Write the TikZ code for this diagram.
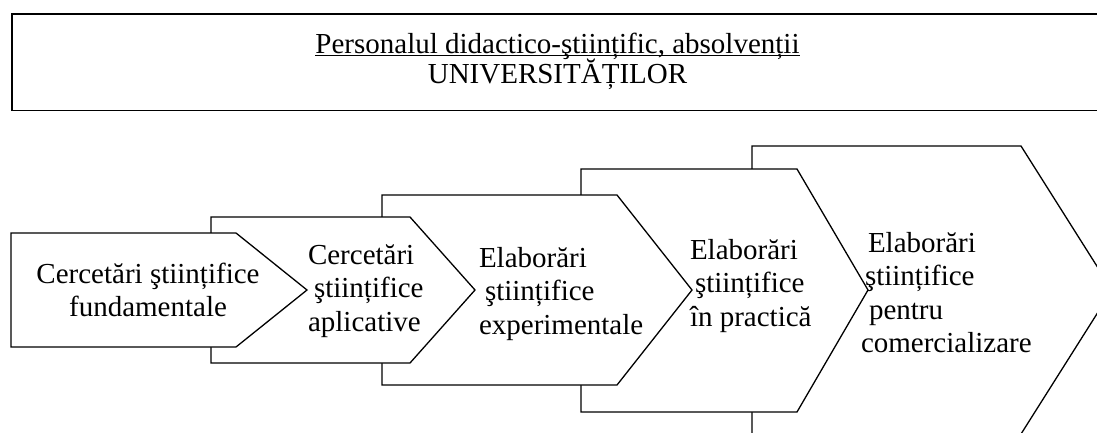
\documentclass[tikz,border=0pt]{standalone}
\usepackage{fontspec}
\setmainfont{Liberation Serif}
\tikzset{
  shp/.style={draw=black, line width=1.3pt, fill=white, line join=miter},
  frame/.style={draw=black, line width=1.6pt},
  lbl/.style={inner sep=0pt, outer sep=0pt, font=\fontsize{29}{33.5}\selectfont},
}
\begin{document}
\begin{tikzpicture}[x=1pt,y=-1pt]
\useasboundingbox (0,0) rectangle (1097,432);
\clip (0,0) rectangle (1097,432);
% title box
\draw[frame] (12,14) rectangle (1106,110.5);
\node[lbl, anchor=base] (t1) at (557.5,53) {Personalul didactico-ştiințific, absolvenții};
\draw[line width=1.4pt] ([yshift=-2.5pt]t1.base west) -- ([yshift=-2.5pt]t1.base east);
\node[lbl, anchor=base] (t2) at (557.5,83) {UNIVERSITĂȚILOR};
% arrow shapes, back to front
\draw[shp] (752,146) -- (1021,146) -- (1112,290) -- (1021,434) -- (752,434) -- cycle;
\draw[shp] (581,169) -- (797,169) -- (868,290) -- (797,412) -- (581,412) -- cycle;
\draw[shp] (382,195) -- (617,195) -- (692,290) -- (617,385) -- (382,385) -- cycle;
\draw[shp] (211,217) -- (410,217) -- (475,290) -- (410,363) -- (211,363) -- cycle;
\draw[shp] (11,233) -- (236,233) -- (307,290) -- (236,347) -- (11,347) -- cycle;
% labels
\node[lbl, anchor=base] (s1) at (148,283)
  {\begin{tabular}[t]{@{}c@{}}Cercetări ştiințifice\\fundamentale\end{tabular}};
\node[lbl, anchor=base west] (s2) at (308,264)
  {\begin{tabular}[t]{@{}l@{}}Cercetări\\\hspace{6pt}ştiințifice\\aplicative\end{tabular}};
\node[lbl, anchor=base west] (s3) at (479,267)
  {\begin{tabular}[t]{@{}l@{}}Elaborări\\\hspace{6pt}ştiințifice\\experimentale\end{tabular}};
\node[lbl, anchor=base west] (s4) at (690,259)
  {\begin{tabular}[t]{@{}l@{}}Elaborări\\\hspace{5pt}ştiințifice\\în practică\end{tabular}};
\node[lbl, anchor=base west] (s5) at (861,252)
  {\begin{tabular}[t]{@{}l@{}}\hspace{7pt}Elaborări\\\hspace{4pt}ştiințifice\\\hspace{8pt}pentru\\comercializare\end{tabular}};
\end{tikzpicture}
\end{document}
